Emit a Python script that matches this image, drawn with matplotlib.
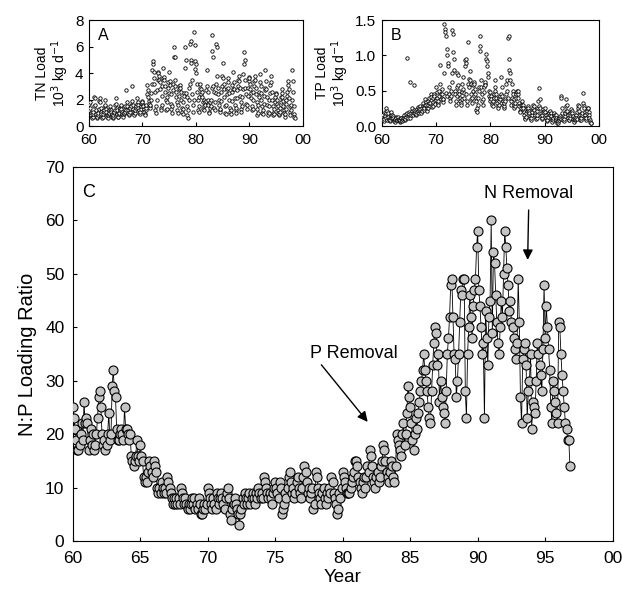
import matplotlib
matplotlib.use("Agg")
import matplotlib.pyplot as plt
import numpy as np

plt.rcParams["font.family"] = ["Liberation Sans", "DejaVu Sans"]

# monthly values, one row per year, starting 1960
tn_load = [
    [1.2, 1.7, 1.8, 1.4, 1.0, 0.8, 0.7, 0.6, 0.7, 0.9, 1.1, 1.5],  # 60
    [2.2, 2.1, 1.6, 1.2, 0.9, 0.7, 0.6, 0.7, 0.8, 1.0, 1.3, 1.9],
    [2.1, 1.8, 1.4, 1.1, 0.9, 0.7, 0.6, 0.7, 0.9, 1.1, 1.2, 1.5],
    [2.0, 1.6, 1.3, 1.1, 0.8, 0.7, 0.6, 0.8, 0.9, 1.0, 1.2, 1.3],
    [1.5, 1.2, 1.1, 0.9, 0.7, 0.6, 0.7, 0.8, 1.0, 1.1, 1.2, 1.6],
    [2.1, 1.7, 1.4, 1.2, 0.9, 0.7, 0.7, 0.9, 1.0, 1.2, 1.4, 1.5],  # 65
    [1.6, 1.3, 1.1, 0.9, 0.8, 0.7, 0.9, 1.0, 1.1, 1.3, 1.5, 1.2],
    [2.7, 1.8, 1.5, 1.2, 1.0, 0.8, 0.9, 1.1, 1.3, 1.4, 1.6, 1.5],
    [3.0, 1.9, 1.6, 1.3, 1.1, 0.9, 0.8, 1.0, 1.2, 1.4, 1.5, 1.7],
    [2.1, 1.8, 1.6, 1.4, 1.2, 1.0, 0.9, 1.1, 1.3, 1.5, 1.7, 1.9],
    [1.8, 1.6, 1.5, 1.3, 1.1, 0.9, 0.8, 1.2, 1.4, 1.6, 2.4, 3.1],  # 70
    [2.7, 2.2, 1.9, 1.7, 1.5, 1.4, 1.6, 2.0, 2.5, 3.2, 4.2, 4.7],
    [4.9, 4.1, 3.6, 3.2, 2.6, 1.2, 1.0, 1.5, 2.0, 2.7, 3.5, 4.1],
    [4.0, 3.8, 3.5, 3.3, 2.8, 1.4, 1.2, 1.6, 2.3, 3.0, 3.6, 4.4],
    [3.7, 3.5, 3.0, 2.6, 2.0, 1.2, 1.3, 1.8, 2.2, 2.9, 3.3, 2.5],
    [4.1, 3.4, 3.1, 2.4, 1.7, 1.3, 1.0, 1.5, 2.7, 3.2, 6.0, 5.2],  # 75
    [5.2, 3.5, 3.0, 2.6, 2.2, 1.8, 1.2, 1.0, 1.6, 2.3, 2.8, 3.0],
    [3.1, 2.9, 2.6, 2.0, 1.4, 1.1, 0.9, 1.3, 1.8, 2.5, 2.3, 4.4],
    [6.0, 5.0, 2.5, 2.2, 1.5, 0.8, 0.6, 1.2, 2.0, 2.9, 3.2, 6.2],
    [5.0, 6.4, 4.8, 3.5, 2.4, 1.6, 1.1, 2.0, 7.1, 6.1, 4.9, 4.3],
    [4.7, 4.0, 3.2, 2.6, 2.0, 1.2, 1.1, 1.5, 2.2, 2.9, 3.2, 2.4],  # 80
    [2.8, 2.6, 2.2, 1.8, 1.3, 1.2, 1.5, 2.0, 1.8, 1.6, 1.9, 2.7],
    [4.2, 3.0, 2.6, 2.0, 1.6, 1.1, 1.0, 1.4, 1.8, 2.0, 1.5, 2.9],
    [6.9, 5.7, 5.2, 3.0, 2.6, 1.4, 1.2, 1.8, 2.5, 3.2, 6.2, 6.0],
    [3.8, 2.9, 2.4, 2.0, 1.6, 1.2, 1.1, 1.3, 1.9, 2.6, 3.0, 3.8],
    [4.8, 3.6, 3.2, 2.8, 2.2, 1.5, 1.0, 0.9, 1.6, 2.4, 2.8, 3.3],  # 85
    [3.6, 2.9, 2.5, 2.0, 1.4, 1.1, 0.9, 1.2, 1.9, 2.6, 3.1, 2.8],
    [4.1, 3.3, 2.8, 2.1, 1.6, 1.2, 1.0, 1.4, 2.1, 2.7, 3.0, 3.5],
    [3.8, 3.4, 2.9, 2.3, 1.8, 1.3, 1.1, 1.5, 2.2, 2.8, 3.9, 4.7],
    [5.6, 5.0, 3.5, 2.9, 2.4, 1.7, 1.3, 1.6, 2.3, 2.9, 3.4, 3.7],
    [3.6, 3.2, 2.8, 2.5, 2.1, 1.5, 1.2, 1.3, 2.0, 2.6, 3.0, 3.4],  # 90
    [3.8, 3.5, 2.9, 2.4, 1.8, 1.3, 0.8, 1.0, 1.6, 2.2, 2.6, 3.3],
    [3.9, 3.0, 2.5, 2.0, 1.5, 1.0, 0.9, 1.2, 1.7, 2.3, 2.7, 2.9],
    [4.2, 3.4, 2.8, 2.2, 1.6, 1.1, 0.8, 1.0, 1.5, 2.0, 2.5, 3.1],
    [3.8, 3.3, 2.6, 2.0, 1.5, 1.0, 0.8, 0.9, 1.3, 1.8, 2.2, 2.5],
    [2.4, 2.0, 1.7, 1.5, 1.2, 1.0, 0.8, 0.9, 1.1, 1.4, 1.8, 2.2],  # 95
    [2.8, 2.5, 2.2, 1.9, 1.5, 1.2, 1.0, 0.7, 0.9, 1.3, 1.7, 2.0],
    [2.3, 2.6, 3.1, 3.4, 2.8, 2.1, 1.5, 1.1, 0.8, 1.2, 1.6, 2.0],
    [4.2, 3.4, 2.6, 1.5, 0.9, 0.7, 0.6],
]

tp_load = [
    [0.15, 0.12, 0.10, 0.08, 0.07, 0.10, 0.14, 0.20, 0.25, 0.18, 0.12, 0.09],  # 60
    [0.22, 0.18, 0.13, 0.10, 0.08, 0.07, 0.09, 0.12, 0.16, 0.20, 0.15, 0.11],
    [0.14, 0.11, 0.09, 0.07, 0.06, 0.08, 0.10, 0.13, 0.12, 0.09, 0.08, 0.10],
    [0.13, 0.10, 0.08, 0.06, 0.07, 0.09, 0.12, 0.11, 0.08, 0.07, 0.09, 0.12],
    [0.15, 0.12, 0.10, 0.08, 0.10, 0.13, 0.17, 0.97, 0.18, 0.14, 0.12, 0.16],
    [0.20, 0.17, 0.63, 0.12, 0.15, 0.19, 0.22, 0.25, 0.18, 0.15, 0.19, 0.23],  # 65
    [0.58, 0.21, 0.18, 0.15, 0.17, 0.20, 0.24, 0.27, 0.22, 0.19, 0.23, 0.26],
    [0.28, 0.24, 0.20, 0.18, 0.21, 0.25, 0.29, 0.33, 0.27, 0.23, 0.26, 0.30],
    [0.38, 0.34, 0.30, 0.26, 0.22, 0.25, 0.30, 0.36, 0.40, 0.32, 0.28, 0.33],
    [0.45, 0.41, 0.30, 0.27, 0.29, 0.34, 0.40, 0.46, 0.42, 0.36, 0.31, 0.37],
    [0.55, 0.48, 0.40, 0.33, 0.30, 0.36, 0.42, 0.50, 0.60, 0.86, 0.45, 0.39],  # 70
    [0.52, 0.46, 0.39, 0.34, 0.38, 0.75, 1.45, 1.38, 1.33, 1.28, 0.47, 0.42],
    [1.09, 1.00, 0.90, 0.85, 0.55, 0.45, 0.40, 0.35, 0.42, 0.50, 0.62, 0.75],
    [1.36, 1.30, 1.05, 0.95, 0.80, 0.50, 0.45, 0.35, 0.30, 0.42, 0.55, 0.75],
    [0.73, 0.58, 0.50, 0.45, 0.40, 0.35, 0.32, 0.30, 0.38, 0.48, 0.60, 0.70],
    [0.52, 0.47, 0.40, 0.93, 0.85, 0.95, 0.90, 0.45, 0.35, 0.30, 1.19, 0.60],  # 75
    [0.66, 0.55, 0.78, 0.65, 0.60, 0.45, 0.38, 0.32, 0.40, 0.50, 0.58, 0.62],
    [0.60, 0.52, 0.45, 0.40, 0.35, 0.23, 0.20, 0.25, 0.30, 0.40, 0.50, 0.55],
    [1.14, 1.27, 1.07, 0.65, 0.55, 0.45, 0.35, 0.30, 0.38, 0.48, 0.55, 0.60],
    [0.62, 0.58, 1.02, 0.95, 0.92, 0.85, 0.75, 0.70, 0.50, 0.42, 0.35, 0.40],
    [0.48, 0.42, 0.38, 0.33, 0.30, 0.28, 0.35, 0.40, 0.45, 0.55, 0.65, 0.50],  # 80
    [0.45, 0.40, 0.36, 0.32, 0.28, 0.25, 0.30, 0.35, 0.40, 0.38, 0.42, 0.45],
    [0.70, 0.55, 0.42, 0.35, 0.30, 0.25, 0.28, 0.33, 0.38, 0.35, 0.45, 0.60],
    [0.65, 0.50, 0.40, 1.24, 1.27, 0.95, 0.80, 0.75, 0.65, 0.35, 0.30, 0.40],
    [0.60, 0.50, 0.45, 0.38, 0.30, 0.25, 0.28, 0.32, 0.40, 0.45, 0.50, 0.48],
    [0.45, 0.50, 0.40, 0.33, 0.28, 0.22, 0.20, 0.25, 0.30, 0.35, 0.30, 0.27],  # 85
    [0.30, 0.25, 0.20, 0.15, 0.12, 0.10, 0.13, 0.18, 0.22, 0.25, 0.28, 0.23],
    [0.26, 0.22, 0.18, 0.14, 0.12, 0.09, 0.11, 0.15, 0.20, 0.24, 0.30, 0.25],
    [0.28, 0.23, 0.19, 0.15, 0.12, 0.10, 0.12, 0.16, 0.21, 0.26, 0.35, 0.28],
    [0.54, 0.38, 0.25, 0.18, 0.14, 0.10, 0.12, 0.16, 0.20, 0.24, 0.22, 0.19],
    [0.25, 0.20, 0.16, 0.12, 0.09, 0.07, 0.09, 0.13, 0.17, 0.20, 0.18, 0.15],  # 90
    [0.22, 0.18, 0.14, 0.10, 0.08, 0.06, 0.08, 0.12, 0.15, 0.18, 0.16, 0.13],
    [0.15, 0.12, 0.09, 0.07, 0.05, 0.05, 0.07, 0.09, 0.12, 0.14, 0.12, 0.10],
    [0.42, 0.40, 0.25, 0.18, 0.12, 0.08, 0.07, 0.10, 0.14, 0.18, 0.22, 0.28],
    [0.38, 0.30, 0.22, 0.16, 0.12, 0.09, 0.08, 0.11, 0.15, 0.19, 0.24, 0.20],
    [0.22, 0.18, 0.14, 0.10, 0.08, 0.06, 0.08, 0.10, 0.13, 0.16, 0.12, 0.10],  # 95
    [0.20, 0.25, 0.30, 0.28, 0.22, 0.16, 0.12, 0.09, 0.08, 0.11, 0.15, 0.18],
    [0.47, 0.33, 0.28, 0.25, 0.20, 0.15, 0.11, 0.09, 0.12, 0.18, 0.22, 0.26],
    [0.25, 0.20, 0.15, 0.12, 0.08, 0.06, 0.05, 0.04],
]

np_ratio = [
    [25, 23, 21, 19, 17, 17, 18, 20, 22, 19, 26, 22],  # 60
    [23, 22, 17, 19, 21, 18, 20, 17, 18, 20, 23, 27],
    [28, 25, 20, 18, 19, 17, 18, 20, 24, 19, 20, 29],
    [32, 28, 27, 21, 19, 19, 20, 21, 20, 19, 25, 21],
    [21, 20, 19, 20, 16, 15, 14, 15, 16, 19, 16, 15],
    [18, 16, 15, 12, 11, 12, 11, 13, 15, 14, 13, 12],  # 65
    [15, 14, 13, 10, 9, 10, 9, 11, 10, 9, 10, 9],
    [12, 11, 10, 9, 8, 7, 8, 7, 8, 7, 8, 7],
    [10, 9, 8, 7, 8, 7, 6, 7, 6, 7, 8, 7],
    [8, 6, 7, 6, 8, 7, 5, 5, 6, 7, 6, 7],
    [10, 9, 8, 7, 6, 8, 7, 6, 9, 8, 7, 8],  # 70
    [9, 8, 7, 6, 8, 9, 10, 8, 5, 4, 6, 7],
    [8, 7, 6, 5, 3, 5, 6, 8, 7, 9, 8, 7],
    [8, 9, 7, 8, 9, 8, 7, 9, 8, 10, 9, 8],
    [9, 8, 12, 11, 10, 9, 8, 9, 8, 7, 9, 10],
    [11, 10, 9, 8, 11, 10, 5, 6, 7, 9, 8, 10],  # 75
    [12, 13, 11, 9, 10, 8, 9, 11, 12, 10, 9, 8],
    [10, 12, 14, 13, 11, 9, 10, 8, 9, 10, 6, 7],
    [13, 12, 10, 9, 8, 7, 9, 10, 8, 7, 9, 8],
    [10, 9, 12, 11, 9, 8, 7, 5, 6, 9, 8, 10],
    [13, 12, 11, 10, 9, 9, 9, 10, 11, 12, 13, 15],  # 80
    [15, 14, 12, 11, 10, 9, 11, 12, 10, 12, 14, 13],
    [17, 16, 14, 12, 11, 10, 12, 13, 11, 12, 14, 15],
    [18, 17, 15, 13, 12, 11, 13, 15, 14, 12, 11, 14],
    [20, 19, 18, 17, 16, 20, 22, 18, 20, 24, 29, 27],
    [25, 22, 19, 17, 20, 23, 21, 24, 26, 28, 30, 32],  # 85
    [35, 32, 30, 28, 25, 23, 22, 28, 33, 37, 40, 39],
    [33, 35, 26, 30, 27, 25, 24, 22, 28, 35, 38, 42],
    [48, 49, 42, 35, 34, 27, 30, 35, 41, 47, 46, 49],
    [49, 28, 23, 35, 40, 46, 42, 38, 44, 47, 49, 55],
    [58, 47, 44, 40, 35, 37, 23, 43, 38, 33, 42, 45],  # 90
    [60, 39, 54, 52, 46, 41, 37, 35, 40, 45, 42, 50],
    [58, 55, 51, 48, 43, 45, 41, 40, 38, 36, 34, 37],
    [49, 41, 27, 22, 34, 36, 37, 33, 23, 28, 30, 35],
    [21, 26, 25, 24, 30, 37, 35, 33, 31, 28, 36, 48],
    [38, 44, 40, 36, 32, 25, 22, 30, 28, 26, 24, 22],  # 95
    [41, 40, 35, 31, 28, 25, 22, 21, 19, 19, 14],
]

year_ticks = [60, 70, 80, 90, 100]
year_labels = ["60", "70", "80", "90", "00"]
year_ticks_c = [60, 65, 70, 75, 80, 85, 90, 95, 100]
year_labels_c = ["60", "65", "70", "75", "80", "85", "90", "95", "00"]


def monthly(rows):
    vals = np.concatenate([np.array(r, dtype=float) for r in rows])
    t = 60 + np.arange(len(vals)) / 12.0
    return t, vals


fig = plt.figure(figsize=(6.22, 5.92), dpi=100)

axA = fig.add_axes([0.143, 0.787, 0.344, 0.179])
axB = fig.add_axes([0.614, 0.787, 0.349, 0.179])
axC = fig.add_axes([0.117, 0.086, 0.868, 0.632])

for ax, rows, ylim, yt, ytl, lab, ylab in [
    (axA, tn_load, (0, 8), [0, 2, 4, 6, 8], ["0", "2", "4", "6", "8"], "A",
     "TN Load\n10$^3$ kg d$^{-1}$"),
    (axB, tp_load, (0, 1.5), [0, 0.5, 1.0, 1.5], ["0.0", "0.5", "1.0", "1.5"], "B",
     "TP Load\n10$^3$ kg d$^{-1}$"),
]:
    t, v = monthly(rows)
    ax.scatter(t, v, s=6, facecolors="white", edgecolors="black", linewidths=0.6, zorder=3)
    ax.set_xlim(60, 100)
    ax.set_ylim(*ylim)
    ax.set_xticks(year_ticks)
    ax.set_xticklabels(year_labels, fontsize=11)
    ax.set_yticks(yt)
    ax.set_yticklabels(ytl, fontsize=11)
    ax.tick_params(direction="in", length=3, width=0.8)
    ax.tick_params(axis="x", pad=5)
    ax.tick_params(axis="y", pad=4)
    ax.set_ylabel(ylab, fontsize=10, linespacing=1.0, labelpad=3)
    ax.text(0.04, 0.93, lab, transform=ax.transAxes, fontsize=11.5, va="top", ha="left")
    for s in ax.spines.values():
        s.set_linewidth(0.8)

t, v = monthly(np_ratio)
axC.plot(t, v, color="black", lw=0.6, zorder=2)
axC.plot(t, v, ls="none", marker="o", ms=6.5, mfc="#c4c4c4", mec="black", mew=0.8, zorder=3)
axC.set_xlim(60, 100)
axC.set_ylim(0, 70)
axC.set_xticks(year_ticks_c)
axC.set_xticklabels(year_labels_c, fontsize=12.5)
axC.set_yticks(range(0, 71, 10))
axC.tick_params(axis="y", labelsize=12.5, pad=6)
axC.tick_params(axis="x", pad=7)
axC.tick_params(direction="in", length=3, width=0.8)
axC.set_xlabel("Year", fontsize=13.5, labelpad=2)
axC.set_ylabel("N:P Loading Ratio", fontsize=14.5, labelpad=6)
axC.text(0.017, 0.955, "C", transform=axC.transAxes, fontsize=13, va="top", ha="left")
for s in axC.spines.values():
    s.set_linewidth(0.8)

axC.annotate("P Removal", xy=(81.85, 22.3), xytext=(77.6, 33.5), fontsize=13,
             ha="left", va="bottom",
             arrowprops=dict(arrowstyle="-|>", color="black", lw=1.0,
                             mutation_scale=15, shrinkA=0, shrinkB=0,
                             relpos=(0.1, 0.0)))
axC.annotate("N Removal", xy=(93.7, 52.6), xytext=(93.8, 63.5), fontsize=13,
             ha="center", va="bottom",
             arrowprops=dict(arrowstyle="-|>", color="black", lw=1.0,
                             mutation_scale=15, shrinkA=4, shrinkB=0))

fig.savefig("out.png", dpi=100)
